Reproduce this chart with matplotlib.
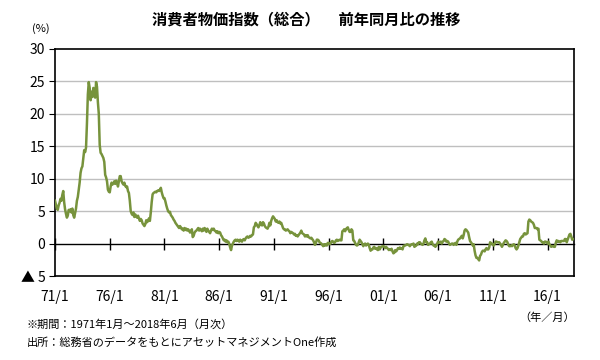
import numpy as np
import matplotlib
matplotlib.use("Agg")
import matplotlib.pyplot as plt

plt.rcParams['font.family'] = ['Noto Sans CJK JP', 'DejaVu Sans']

# 消費者物価指数（総合）前年同月比 (%)  1971/1 ～ 2018/6, 月次
cpi_yoy = [
    6.6, 6.0, 5.4, 5.2, 5.9, 6.3, 6.9, 6.6, 7.5, 8.1, 6.4, 5.3,            # 1971
    4.6, 4.0, 4.3, 5.2, 5.0, 5.3, 4.8, 5.4, 4.4, 4.0, 4.7, 5.4,            # 1972
    6.6, 7.2, 8.3, 9.4, 10.9, 11.6, 11.9, 13.1, 14.4, 14.1, 14.8, 18.5,    # 1973
    23.0, 24.9, 24.0, 22.1, 23.4, 22.6, 24.0, 23.2, 22.5, 24.9, 24.2, 21.8,  # 1974
    20.0, 15.2, 14.0, 13.8, 13.5, 13.2, 12.6, 10.6, 10.2, 9.6, 8.3, 8.0,   # 1975
    7.9, 8.8, 9.4, 9.1, 9.3, 9.6, 9.2, 9.7, 9.5, 8.8, 9.6, 10.4,           # 1976
    10.4, 9.6, 9.3, 9.1, 9.4, 8.9, 8.7, 8.8, 8.1, 7.8, 6.6, 5.0,           # 1977
    4.6, 4.4, 4.8, 4.1, 4.5, 4.2, 4.0, 4.3, 3.9, 3.5, 3.8, 3.6,            # 1978
    3.1, 2.9, 2.7, 3.0, 3.6, 3.3, 3.5, 3.9, 3.5, 4.8, 6.4, 7.6,            # 1979
    7.8, 7.9, 8.0, 7.9, 8.1, 8.2, 8.1, 8.3, 8.6, 7.9, 7.4, 7.0,            # 1980
    7.0, 6.5, 5.9, 5.4, 5.0, 4.8, 4.9, 4.4, 4.2, 4.0, 3.7, 3.5,            # 1981
    3.2, 3.0, 2.8, 2.6, 2.4, 2.7, 2.5, 2.2, 2.3, 2.0, 2.4, 2.1,            # 1982
    2.3, 2.0, 2.2, 2.0, 1.7, 1.9, 2.2, 1.0, 1.2, 1.7, 1.9, 2.0,            # 1983
    2.2, 2.4, 2.0, 2.3, 2.1, 1.9, 2.3, 2.0, 2.4, 2.2, 1.8, 2.3,            # 1984
    2.0, 1.8, 1.6, 2.0, 2.3, 2.1, 2.3, 2.0, 1.9, 1.7, 1.9, 1.6,            # 1985
    1.8, 1.7, 1.3, 1.1, 0.8, 0.5, 0.6, 0.3, 0.5, 0.2, 0.3, 0.0,            # 1986
    -0.6, -1.0, -0.3, 0.0, 0.3, 0.5, 0.6, 0.4, 0.6, 0.5, 0.3, 0.6,         # 1987
    0.4, 0.3, 0.6, 0.7, 0.5, 0.8, 1.0, 1.1, 0.9, 1.0, 1.2, 1.1,            # 1988
    1.3, 1.4, 2.5, 2.7, 3.2, 3.0, 2.7, 2.5, 2.8, 3.3, 2.9, 2.8,            # 1989
    3.3, 3.1, 2.7, 2.5, 2.4, 2.3, 2.6, 3.2, 2.8, 3.5, 3.9, 4.2,            # 1990
    4.0, 3.8, 3.4, 3.6, 3.3, 3.2, 3.4, 3.1, 3.2, 2.8, 2.4, 2.2,            # 1991
    2.2, 2.0, 2.1, 2.2, 2.0, 1.9, 1.6, 1.8, 1.7, 1.6, 1.4, 1.5,            # 1992
    1.2, 1.3, 1.1, 1.3, 1.5, 1.7, 2.0, 1.6, 1.5, 1.4, 1.1, 1.3,            # 1993
    1.1, 1.3, 1.0, 0.9, 0.8, 0.9, 0.7, 0.5, 0.2, -0.2, 0.1, 0.6,           # 1994
    0.6, 0.5, 0.2, 0.1, 0.0, -0.2, -0.4, -0.1, -0.3, -0.1, -0.3, 0.1,      # 1995
    0.1, -0.1, 0.0, 0.3, 0.4, 0.3, 0.1, 0.2, 0.5, 0.6, 0.4, 0.5,           # 1996
    0.6, 0.5, 0.5, 1.9, 2.0, 2.2, 1.9, 2.2, 2.4, 2.5, 2.1, 1.8,            # 1997
    1.8, 2.2, 2.0, 0.5, 0.4, 0.1, -0.2, -0.3, -0.2, 0.2, 0.6, 0.4,         # 1998
    0.2, -0.1, -0.4, -0.1, 0.0, -0.3, -0.1, 0.0, -0.2, -0.7, -1.1, -0.9,   # 1999
    -0.9, -0.6, -0.5, -0.8, -0.7, -0.9, -1.0, -0.5, -0.9, -0.6, -0.5, -0.4,  # 2000
    -0.4, -0.5, -0.7, -0.5, -0.7, -0.8, -1.0, -0.9, -1.0, -0.8, -1.2, -1.5,  # 2001
    -1.4, -1.0, -1.2, -1.0, -0.7, -0.8, -0.6, -0.8, -0.7, -0.9, -0.4, -0.3,  # 2002
    -0.3, -0.2, -0.1, -0.2, -0.2, -0.4, -0.2, -0.1, -0.1, 0.0, -0.5, -0.4,   # 2003
    -0.3, 0.0, -0.1, 0.2, 0.2, 0.0, -0.1, -0.2, 0.0, 0.5, 0.8, 0.2,        # 2004
    0.2, -0.2, -0.1, 0.0, 0.2, 0.3, -0.1, -0.3, -0.3, -0.5, -0.3, 0.0,     # 2005
    0.3, 0.1, 0.2, 0.3, 0.0, 0.3, 0.4, 0.7, 0.6, 0.3, 0.4, 0.3,            # 2006
    0.0, -0.2, -0.1, 0.0, 0.0, -0.2, 0.0, 0.1, -0.2, 0.3, 0.6, 0.7,        # 2007
    0.8, 1.0, 1.2, 0.8, 1.3, 2.0, 2.2, 2.1, 1.9, 1.7, 1.0, 0.4,            # 2008
    0.2, 0.0, -0.3, -0.1, -1.1, -1.8, -2.2, -2.2, -2.4, -2.6, -1.9, -1.7,  # 2009
    -1.3, -1.1, -1.1, -1.2, -0.9, -0.7, -0.9, -0.9, -0.6, 0.2, 0.1, 0.0,   # 2010
    -0.2, -0.3, 0.0, 0.3, 0.3, 0.2, 0.2, 0.2, 0.0, -0.2, -0.5, -0.2,       # 2011
    0.1, 0.3, 0.5, 0.4, 0.2, -0.2, -0.4, -0.4, -0.3, -0.4, -0.2, -0.1,     # 2012
    -0.3, -0.7, -0.9, -0.7, -0.3, 0.2, 0.7, 0.9, 1.1, 1.1, 1.5, 1.6,       # 2013
    1.4, 1.5, 1.6, 3.4, 3.7, 3.6, 3.4, 3.3, 3.2, 2.9, 2.4, 2.4,            # 2014
    2.4, 2.2, 2.3, 0.6, 0.5, 0.4, 0.2, 0.2, 0.0, 0.3, 0.3, 0.2,            # 2015
    0.0, 0.3, -0.1, -0.3, -0.5, -0.4, -0.4, -0.5, -0.5, 0.1, 0.5, 0.3,     # 2016
    0.4, 0.3, 0.2, 0.4, 0.4, 0.4, 0.4, 0.7, 0.7, 0.2, 0.6, 1.0,            # 2017
    1.4, 1.5, 1.1, 0.6, 0.7, 0.7,                                          # 2018
]

x_labels = ["71/1", "76/1", "81/1", "86/1", "91/1", "96/1",
            "01/1", "06/1", "11/1", "16/1"]
y_ticks = [-5, 0, 5, 10, 15, 20, 25, 30]
y_labels = ["▲ 5", "0", "5", "10", "15", "20", "25", "30"]

months = np.arange(len(cpi_yoy))
tick_pos = np.arange(len(x_labels)) * 60  # 5年ごと

fig = plt.figure(figsize=(6, 3.6), dpi=100)
ax = fig.add_axes([0.0917, 0.2333, 0.865, 0.6306])

ax.plot(months, cpi_yoy, color="#77933C", linewidth=1.8, zorder=3)

ax.set_xlim(0, len(cpi_yoy) - 1)
ax.set_ylim(-5, 30)
ax.set_yticks(y_ticks, labels=y_labels)
ax.set_xticks(tick_pos, labels=x_labels)
ax.tick_params(axis="x", length=0, pad=10, labelsize=10)
ax.tick_params(axis="y", length=4, direction="out", labelsize=10, pad=3)

for g in y_ticks[2:-1]:
    ax.axhline(g, color="#BFBFBF", linewidth=1.0, zorder=1)

for sp in ax.spines.values():
    sp.set_color("black")
    sp.set_linewidth(1.2)

# 0 の線と目盛り
zero = ax.secondary_xaxis(5 / 35)
zero.set_xticks(tick_pos, labels=[])
zero.tick_params(direction="inout", length=9, width=1.0, color="black")
zero.spines["bottom"].set_linewidth(1.0)

fig.text(0.51, 0.945, "消費者物価指数（総合）　 前年同月比の推移",
         ha="center", va="center", fontsize=11, fontweight="bold")
fig.text(0.068, 0.92, "(%)", ha="center", va="center", fontsize=8)
fig.text(0.912, 0.118, "（年／月）", ha="center", va="center", fontsize=8)
fig.text(0.045, 0.098, "※期間：1971年1月～2018年6月（月次）",
         ha="left", va="center", fontsize=8)
fig.text(0.045, 0.05, "出所：総務省のデータをもとにアセットマネジメントOne作成",
         ha="left", va="center", fontsize=8)

plt.savefig("out.png", dpi=100)
